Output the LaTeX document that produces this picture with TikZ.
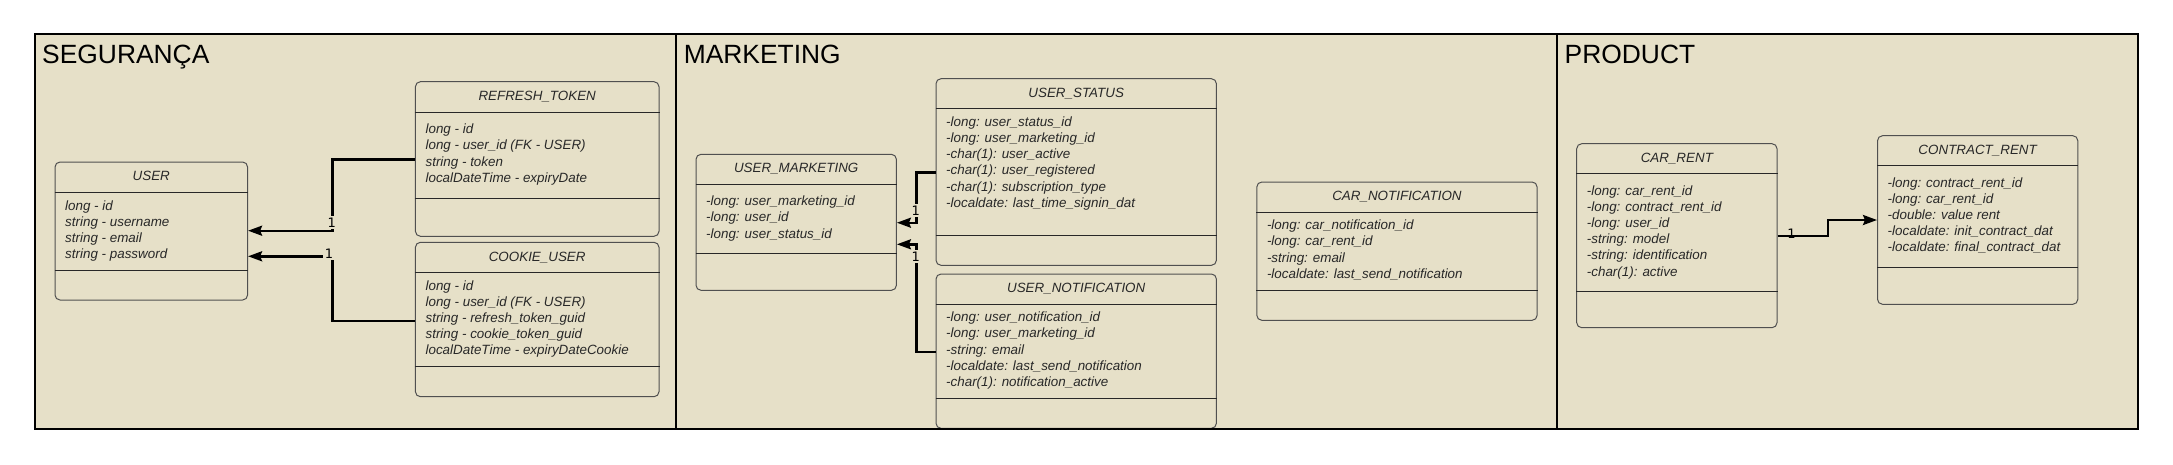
\documentclass[tikz,border=0pt]{standalone}
\usepackage{fontspec}
\setmainfont{Liberation Sans}
\newfontfamily\lblfont{DejaVu Sans}
\usetikzlibrary{arrows.meta}
\definecolor{bg}{RGB}{230,224,200}
\definecolor{boxc}{RGB}{80,80,80}
\definecolor{txt}{RGB}{40,40,40}
\tikzset{
  umlrect/.style={draw=boxc, line width=1pt, rounded corners=5pt, fill=bg, inner sep=0pt},
  sepline/.style={draw=txt, line width=0.9pt},
  umltitle/.style={anchor=base, inner sep=0pt, text=txt, font=\fontsize{13.4}{16}\selectfont\itshape},
  umltext/.style={anchor=base west, inner sep=0pt, text=txt, font=\fontsize{13.4}{16}\selectfont\itshape},
  secttitle/.style={anchor=base west, inner sep=0pt, text=black, font=\fontsize{26.4}{30}\selectfont},
  conn/.style={line width=2.4pt, -{Stealth[length=14pt,width=10pt,inset=2pt]}},
  lbl/.style={fill=bg, inner sep=1.5pt, text=black, font=\lblfont\fontsize{13}{13}\selectfont}
}
% #1 name, #2 left, #3 top, #4 right, #5 bottom, #6 header line, #7 second line, #8 title
\newcommand\umlbox[8]{%
  \node[umlrect, minimum width={(#4)-(#2)}, minimum height={(#5)-(#3)}] (#1) at ({((#2)+(#4))/2},{((#3)+(#5))/2}) {};
  \draw[sepline] (#1.west |- 0,#6) -- (#1.east |- 0,#6);
  \draw[sepline] (#1.west |- 0,#7) -- (#1.east |- 0,#7);
  \pgfmathsetmacro\ttly{((#3)+(#6))/2+3.5}
  \node[umltitle] (#1-title) at (#1.center |- 0,\ttly) {#8};
}
% #1 name, #2 first line centre y, #3 list of lines
\newcommand\umlbody[3]{%
  \foreach \lineitem [count=\i] in {#3} {
    \pgfmathsetmacro\yy{(#2)+4.3+(\i-1)*16.2}
    \node[umltext] (#1-l\i) at ([xshift=10.5pt]#1.west |- 0,\yy) {\lineitem};
  }
}
\begin{document}
\begin{tikzpicture}[x=1pt,y=-1pt]
\useasboundingbox (0,0) rectangle (2173,464);
\fill[white] (0,0) rectangle (2173,464);
\fill[bg] (34.7,34.3) rectangle (2138,429);

% section titles
\node[secttitle] (tseg) at (42,63) {SEGURANÇA};
\node[secttitle] (tmkt) at (683.6,63) {MARKETING};
\node[secttitle] (tprod) at (1564.5,63) {PRODUCT};

% SEGURANCA
\umlbox{user}{55}{162}{247.6}{300}{192.3}{270.3}{USER}
\umlbody{user}{205.7}{{long - id},{string - username},{string - email},{string - password}}
\umlbox{rt}{415.4}{81.7}{659}{236.3}{112.3}{198.3}{REFRESH\_TOKEN}
\umlbody{rt}{129.3}{{long - id},{long - user\_id (FK - USER)},{string - token},{localDateTime - expiryDate}}
\umlbox{cu}{415.4}{242.3}{659}{396.7}{272.7}{366.3}{COOKIE\_USER}
\umlbody{cu}{285.7}{{long - id},{long - user\_id (FK - USER)},{string - refresh\_token\_guid},{string - cookie\_token\_guid},{localDateTime - expiryDateCookie}}

% MARKETING
\umlbox{um}{696}{154.3}{896.4}{290.3}{184}{253.3}{USER\_MARKETING}
\umlbody{um}{201.3}{{-long: user\_marketing\_id},{-long: user\_id},{-long: user\_status\_id}}
\umlbox{us}{936}{78.7}{1216.4}{265.3}{108.3}{235.3}{USER\_STATUS}
\umlbody{us}{122}{{-long: user\_status\_id},{-long: user\_marketing\_id},{-char(1): user\_active},{-char(1): user\_registered},{-char(1): subscription\_type},{-localdate: last\_time\_signin\_dat}}
\umlbox{un}{936}{274}{1216.4}{428.3}{304.3}{398.3}{USER\_NOTIFICATION}
\umlbody{un}{317.3}{{-long: user\_notification\_id},{-long: user\_marketing\_id},{-string: email},{-localdate: last\_send\_notification},{-char(1): notification\_active}}
\umlbox{cn}{1256.8}{182}{1537.1}{320.3}{212.3}{290.3}{CAR\_NOTIFICATION}
\umlbody{cn}{225.3}{{-long: car\_notification\_id},{-long: car\_rent\_id},{-string: email},{-localdate: last\_send\_notification}}

% PRODUCT
\umlbox{cr}{1576.7}{143.7}{1777}{327.7}{173.3}{291.3}{CAR\_RENT}
\umlbody{cr}{190.7}{{-long: car\_rent\_id},{-long: contract\_rent\_id},{-long: user\_id},{-string: model},{-string: identification},{-char(1): active}}
\umlbox{ct}{1877.5}{135.7}{2077.8}{304.3}{165.3}{267.3}{CONTRACT\_RENT}
\umlbody{ct}{182.7}{{-long: contract\_rent\_id},{-long: car\_rent\_id},{-double: value rent},{-localdate: init\_contract\_dat},{-localdate: final\_contract\_dat}}

% connectors
\draw[conn] (rt.west |- 0,159.3) -| (332.3,230.7) -- (user.east |- 0,230.7);
\node[lbl] (lb1) at (331.7,222.3) {1};
\draw[conn] (cu.west |- 0,321) -| (332.3,256.3) -- (user.east |- 0,256.3);
\node[lbl] (lb2) at (329,253.3) {1};
\draw[conn] (us.west |- 0,172.3) -| (916.4,222.7) -- (um.east |- 0,222.7);
\node[lbl] (lb3) at (915.7,210.7) {1};
\draw[conn] (un.west |- 0,351.7) -| (916.4,244.3) -- (um.east |- 0,244.3);
\node[lbl] (lb4) at (915.7,256.7) {1};
\draw[conn] (cr.east |- 0,236) -| (1827.8,220) -- (ct.west |- 0,220);
\node[lbl, fill=none] (lb5) at (1791.5,234) {1};

% frame and dividers
\draw[line width=2pt] (34.7,34.3) rectangle (2138,429);
\draw[line width=2pt] (676,34.3) -- (676,429);
\draw[line width=2pt] (1557,34.3) -- (1557,429);
\end{tikzpicture}
\end{document}
